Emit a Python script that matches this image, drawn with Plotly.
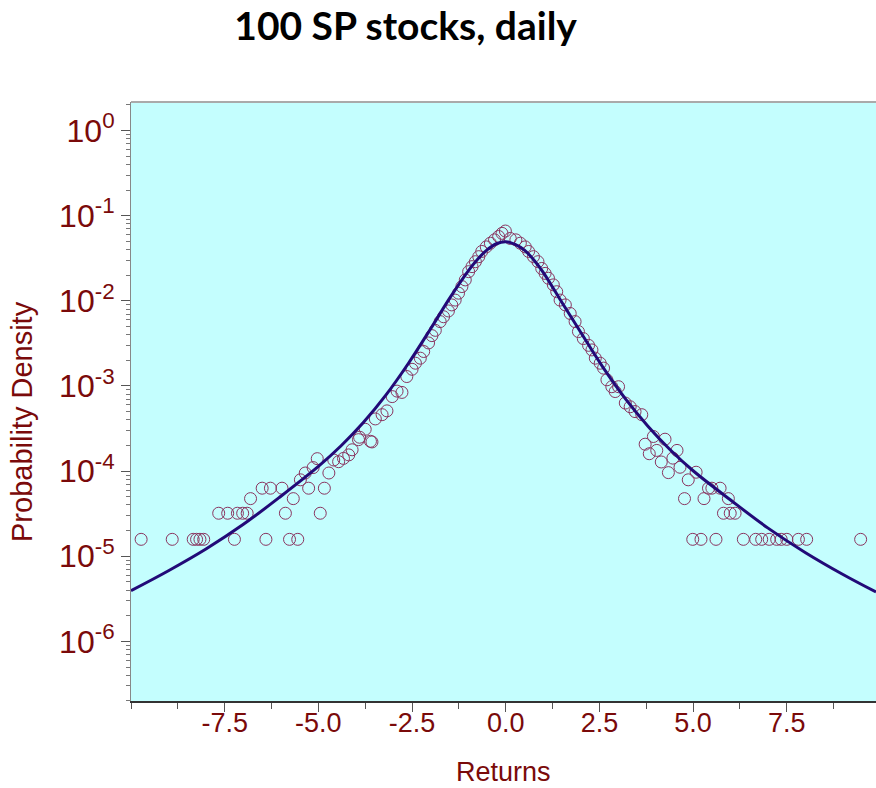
import plotly.graph_objects as go

# ---------------- data ----------------
# empirical density (open circles)
ret_left_tail = [-9.73, -8.90, -8.34, -8.25, -8.16, -8.06, -7.24, -6.40, -5.77, -5.55,
                 -7.66, -7.42, -7.16, -7.02, -6.90, -5.88, -4.95,
                 -6.81, -5.67,
                 -6.50, -6.28, -5.97, -5.26, -4.84,
                 -5.48, -5.35, -4.72, -5.14, -5.03]
dens_left_tail = [1.58e-5] * 10 + [3.2e-5] * 7 + [4.75e-5] * 2 + [6.3e-5] * 5 + \
                 [7.9e-5, 9.5e-5, 9.5e-5, 1.1e-4, 1.4e-4]

ret_core = [-4.59, -4.46, -4.33, -4.19, -4.10, -3.93, -3.90, -3.75, -3.61, -3.57,
            -3.48, -3.30, -3.17, -3.03, -2.90, -2.77, -2.64, -2.50, -2.41, -2.28,
            -2.19, -2.06, -1.97, -1.88, -1.75, -1.66, -1.53, -1.44, -1.35, -1.26,
            -1.17, -1.08, -0.99, -0.90, -0.81, -0.72, -0.64, -0.52, -0.41, -0.30,
            -0.19, -0.10, -0.01, 0.12, 0.27, 0.39, 0.52, 0.61, 0.74, 0.86,
            0.96, 1.05, 1.14, 1.27, 1.36, 1.45, 1.59, 1.72, 1.85, 1.94,
            2.07, 2.21, 2.30, 2.39, 2.52, 2.61, 2.70, 2.83, 2.92, 3.01,
            3.19, 3.32, 3.45, 3.63]
dens_core = [1.35e-4, 1.29e-4, 1.41e-4, 1.55e-4, 1.78e-4, 2.34e-4, 2.5e-4, 3.1e-4, 2.24e-4, 2.2e-4,
             4.1e-4, 4.6e-4, 5.1e-4, 7.5e-4, 8.7e-4, 8.4e-4, 1.29e-3, 1.57e-3, 1.85e-3, 2.12e-3,
             2.54e-3, 3.2e-3, 3.9e-3, 4.5e-3, 5.7e-3, 6.5e-3, 7.6e-3, 8.95e-3, 1.02e-2, 1.23e-2,
             1.47e-2, 1.76e-2, 2.2e-2, 2.52e-2, 2.88e-2, 3.3e-2, 3.8e-2, 4.3e-2, 4.75e-2, 5.2e-2,
             5.7e-2, 6.2e-2, 6.6e-2, 5.4e-2, 5.2e-2, 4.75e-2, 4.3e-2, 3.8e-2, 3.3e-2, 2.88e-2,
             2.4e-2, 2.1e-2, 1.84e-2, 1.54e-2, 1.28e-2, 1.02e-2, 8.95e-3, 7.1e-3, 5.7e-3, 4.35e-3,
             3.6e-3, 3.0e-3, 2.65e-3, 2.12e-3, 1.85e-3, 1.62e-3, 1.18e-3, 9.8e-4, 8.6e-4, 9.8e-4,
             6.3e-4, 5.7e-4, 5.0e-4, 4.6e-4]

ret_right_tail = [3.72, 3.83, 3.94, 4.03, 4.15, 4.25, 4.34, 4.46, 4.57, 4.65,
                  4.77, 4.87, 5.08, 5.29, 5.41, 5.50, 5.72, 5.81, 5.94, 5.99, 6.12,
                  4.99, 5.21, 5.61, 6.34, 6.67, 6.83, 7.03, 7.23, 7.35, 7.50, 7.81, 8.03, 9.47]
dens_right_tail = [2.07e-4, 1.6e-4, 2.55e-4, 1.75e-4, 1.28e-4, 2.37e-4, 9.6e-5, 1.42e-4, 1.75e-4, 1.11e-4,
                   4.75e-5, 7.9e-5, 9.7e-5, 4.75e-5, 6.3e-5, 6.3e-5, 6.3e-5, 3.2e-5, 4.75e-5, 3.2e-5, 3.2e-5] + \
                  [1.58e-5] * 13

# fitted density curve
fit_ret = [-10.0, -9.0, -8.0, -7.0, -6.0, -5.0, -4.4, -3.8, -3.2, -2.6,
           -2.0, -1.5, -1.0, -0.75, -0.5, -0.25, 0.0, 0.25, 0.5, 0.75,
           1.0, 1.5, 2.0, 2.6, 3.2, 3.8, 4.4, 5.0, 6.0, 7.0,
           8.0, 9.0, 9.88]
fit_dens = [3.94e-6, 6.76e-6, 1.216e-5, 2.37e-5, 5.07e-5, 1.135e-4, 1.97e-4, 3.72e-4, 7.8e-4, 1.837e-3,
            4.73e-3, 1.067e-2, 2.25e-2, 3.08e-2, 3.96e-2, 4.68e-2, 4.95e-2, 4.61e-2, 3.94e-2, 3.02e-2,
            2.16e-2, 9.55e-3, 4.27e-3, 1.64e-3, 7.0e-4, 3.35e-4, 1.76e-4, 1.01e-4, 4.57e-5, 2.14e-5,
            1.10e-5, 6.1e-6, 3.8e-6]

y_tick_vals = [1, 1e-1, 1e-2, 1e-3, 1e-4, 1e-5, 1e-6]
y_tick_text = ["10<sup>0</sup>", "10<sup>-1</sup>", "10<sup>-2</sup>", "10<sup>-3</sup>",
               "10<sup>-4</sup>", "10<sup>-5</sup>", "10<sup>-6</sup>"]
x_tick_vals = [-7.5, -5.0, -2.5, 0.0, 2.5, 5.0, 7.5]
x_tick_text = ["-7.5", "-5.0", "-2.5", "0.0", "2.5", "5.0", "7.5"]

# ---------------- figure ----------------
DARKRED = "#7a0a0a"
W, H, L, R, T, B = 876, 788, 131, 0, 102, 87
pw, ph = W - L - R, H - T - B

ret_all = ret_left_tail + ret_core + ret_right_tail
dens_all = dens_left_tail + dens_core + dens_right_tail

fig = go.Figure()
fig.add_trace(go.Scatter(
    x=ret_all, y=dens_all, mode="markers",
    marker=dict(symbol="circle-open", size=12, color="#8a3560", line=dict(width=1)),
    showlegend=False, hoverinfo="skip"))
fig.add_trace(go.Scatter(
    x=fit_ret, y=fit_dens, mode="lines",
    line=dict(color="#220a78", width=3, shape="spline", smoothing=1.0),
    showlegend=False, hoverinfo="skip"))

minor_vals = [m * 10.0 ** k for k in range(-7, 1) for m in range(2, 10)]

fig.update_layout(
    width=W, height=H,
    margin=dict(l=L, r=R, t=T, b=B),
    paper_bgcolor="white", plot_bgcolor="#c4fefe",
    font=dict(family="Liberation Sans, Arial, sans-serif", color=DARKRED),
    title=dict(text="<b>100 SP stocks, daily</b>", x=0.463, xanchor="center",
               y=0.966, yanchor="middle",
               font=dict(family="Lato, sans-serif", size=39, color="black")),
    xaxis=dict(range=[-10.0, 9.88], tickmode="array", tickvals=x_tick_vals, ticktext=x_tick_text,
               ticks="outside", ticklen=9, tickcolor="#555", showgrid=False, zeroline=False,
               showline=True, linecolor="#333", linewidth=2, ticklabelstandoff=-12,
               minor=dict(ticks="outside", ticklen=6, tickcolor="#555", dtick=1.25, tick0=0, showgrid=False),
               tickfont=dict(size=27, color=DARKRED)),
    yaxis=dict(type="log", range=[-6.70, 0.335], tickmode="array", tickvals=y_tick_vals, ticktext=y_tick_text,
               ticks="outside", ticklen=9, tickcolor="#555", showgrid=False, zeroline=False,
               showline=True, linecolor="#888", linewidth=1,
               minor=dict(ticks="outside", ticklen=4, tickcolor="#777", tickmode="array",
                          tickvals=minor_vals, showgrid=False),
               tickfont=dict(size=32, color=DARKRED)),
    annotations=[
        dict(text="SP 100", x=-0.35, y=10 ** -0.12, xref="x", yref="y",
             showarrow=False, font=dict(size=27, color=DARKRED)),
        dict(text="Returns", x=(503 - L) / pw, y=(H - B - 772) / ph, xref="paper", yref="paper",
             xanchor="center", yanchor="middle",
             showarrow=False, font=dict(size=27, color=DARKRED)),
        dict(text="Probability Density", x=(22 - L) / pw, y=(H - B - 422) / ph,
             xref="paper", yref="paper", xanchor="center", yanchor="middle",
             textangle=-90, showarrow=False, font=dict(size=29, color=DARKRED)),
    ],
    shapes=[dict(type="line", xref="paper", yref="paper", x0=0, x1=1, y0=1, y1=1,
                 line=dict(color="#aaaaaa", width=2))],
)

fig.write_html("out.html")
